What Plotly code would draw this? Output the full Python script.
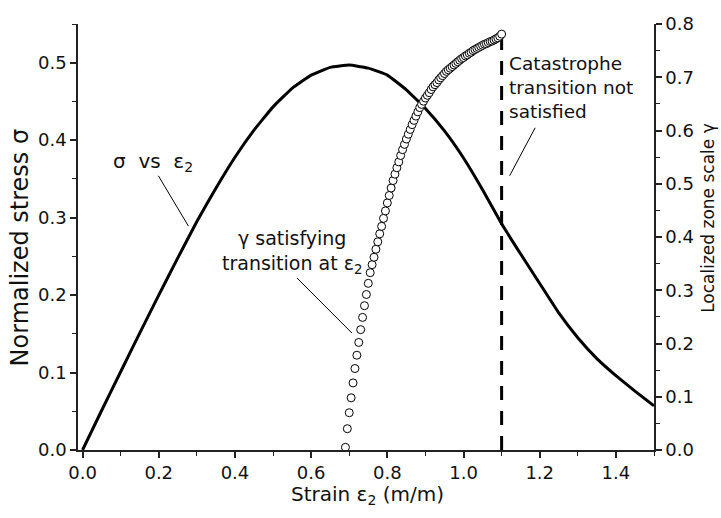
import plotly.graph_objects as go

# ---- data ----
strain_sigma = [0.00, 0.05, 0.10, 0.15, 0.20, 0.25, 0.30, 0.35, 0.40, 0.45,
                0.50, 0.55, 0.60, 0.65, 0.70, 0.75, 0.80, 0.85, 0.90, 0.95,
                1.00, 1.05, 1.10, 1.15, 1.20, 1.25, 1.30, 1.35, 1.40, 1.45, 1.50]
sigma = [0.000, 0.051, 0.101, 0.151, 0.200, 0.248, 0.295, 0.338, 0.378, 0.413,
         0.443, 0.467, 0.484, 0.494, 0.497, 0.493, 0.484, 0.465, 0.441, 0.412,
         0.377, 0.336, 0.292, 0.253, 0.215, 0.177, 0.145, 0.118, 0.096, 0.076, 0.057]

strain_gamma = [0.690, 0.695, 0.700, 0.705, 0.710, 0.715, 0.720, 0.725, 0.730, 0.735,
                0.740, 0.745, 0.750, 0.755, 0.760, 0.765, 0.770, 0.775, 0.780, 0.785,
                0.790, 0.795, 0.800, 0.805, 0.810, 0.815, 0.820, 0.825, 0.830, 0.835,
                0.840, 0.845, 0.850, 0.855, 0.860, 0.865, 0.870, 0.875, 0.880, 0.885,
                0.890, 0.895, 0.900, 0.905, 0.910, 0.915, 0.920, 0.925, 0.930, 0.935,
                0.940, 0.945, 0.950, 0.955, 0.960, 0.965, 0.970, 0.975, 0.980, 0.985,
                0.990, 0.995, 1.000, 1.005, 1.010, 1.015, 1.020, 1.025, 1.030, 1.035,
                1.040, 1.045, 1.050, 1.055, 1.060, 1.065, 1.070, 1.075, 1.080, 1.085,
                1.090, 1.095, 1.100]
gamma = [0.005, 0.040, 0.070, 0.098, 0.126, 0.153, 0.178, 0.202, 0.226, 0.249,
         0.271, 0.292, 0.313, 0.333, 0.348, 0.362, 0.377, 0.391, 0.406, 0.420,
         0.435, 0.449, 0.464, 0.478, 0.492, 0.506, 0.518, 0.530, 0.541, 0.553,
         0.564, 0.574, 0.584, 0.593, 0.602, 0.611, 0.619, 0.627, 0.635, 0.643,
         0.649, 0.655, 0.661, 0.666, 0.671, 0.677, 0.682, 0.686, 0.690, 0.695,
         0.699, 0.703, 0.707, 0.711, 0.714, 0.717, 0.720, 0.723, 0.726, 0.729,
         0.732, 0.735, 0.737, 0.740, 0.742, 0.745, 0.747, 0.750, 0.752, 0.754,
         0.756, 0.758, 0.760, 0.762, 0.763, 0.765, 0.767, 0.768, 0.770, 0.772,
         0.774, 0.777, 0.781]

catastrophe_strain = 1.1

x_title = "Strain ε<sub>2</sub> (m/m)"
y_title = "Normalized stress σ"
y2_title = "Localized zone scale γ"

FONT = "DejaVu Sans"
AX = "#222222"

fig = go.Figure()
fig.add_trace(go.Scatter(
    x=strain_sigma, y=sigma, mode="lines", yaxis="y",
    line=dict(color="black", width=3, shape="spline", smoothing=0.3),
    showlegend=False, hoverinfo="skip"))
fig.add_trace(go.Scatter(
    x=[catastrophe_strain, catastrophe_strain], y=[0, gamma[-1]], mode="lines", yaxis="y2",
    line=dict(color="black", width=3, dash="14px,11px"),
    showlegend=False, hoverinfo="skip"))
fig.add_trace(go.Scatter(
    x=strain_gamma, y=gamma, mode="markers", yaxis="y2",
    marker=dict(symbol="circle", size=8, color="white", line=dict(color="black", width=1)),
    showlegend=False, hoverinfo="skip"))

common = dict(showline=True, linecolor=AX, linewidth=1.5, ticks="outside", ticklen=6,
              tickwidth=1.5, tickcolor=AX, showgrid=False, zeroline=False,
              tickformat=".1f", tickfont=dict(family=FONT, size=18, color="#111"))

fig.update_layout(
    width=721, height=518,
    margin=dict(l=78, r=67, t=24, b=68),
    paper_bgcolor="white", plot_bgcolor="white",
    font=dict(family=FONT, color="#111"),
    xaxis=dict(range=[-0.012, 1.5], dtick=0.2, tick0=0,
               minor=dict(dtick=0.1, ticks="outside", ticklen=4, tickwidth=1.3, tickcolor=AX, showgrid=False),
               **common),
    yaxis=dict(range=[0, 0.55], dtick=0.1, tick0=0,
               minor=dict(dtick=0.05, ticks="outside", ticklen=4, tickwidth=1.3, tickcolor=AX, showgrid=False),
               **common),
    yaxis2=dict(range=[0, 0.8], dtick=0.1, tick0=0, overlaying="y", side="right", anchor="x",
                minor=dict(dtick=0.05, ticks="outside", ticklen=4, tickwidth=1.3, tickcolor=AX, showgrid=False),
                **common),
    showlegend=False,
)

ann_font = dict(family=FONT, size=19, color="#111")
fig.add_annotation(text=x_title, xref="paper", yref="paper", x=0.502, y=-0.106,
                   xanchor="center", yanchor="middle",
                   showarrow=False, font=dict(family=FONT, size=20, color="#111"))
fig.add_annotation(text=y_title, xref="paper", yref="paper", x=-0.100, y=0.4765,
                   xanchor="center", yanchor="middle",
                   textangle=-90, showarrow=False, font=dict(family=FONT, size=24, color="#111"))
fig.add_annotation(text=y2_title, xref="paper", yref="paper", x=1.0938, y=0.545,
                   xanchor="center", yanchor="middle",
                   textangle=-90, showarrow=False, font=dict(family=FONT, size=17, color="#111"))

fig.add_annotation(text="σ\u00a0 vs \u00a0ε<sub>2</sub>", xref="x", yref="y", x=0.186, y=0.372,
                   showarrow=False, font=dict(family=FONT, size=20, color="#111"))
fig.add_annotation(text="γ satisfying<br>transition at ε<sub>2</sub>", xref="x", yref="y",
                   x=0.551, y=0.256, showarrow=False, font=ann_font, align="center")
fig.add_annotation(text="Catastrophe<br>transition not<br>satisfied", xref="x", yref="y",
                   x=1.115, y=0.468, xanchor="left", showarrow=False,
                   font=dict(family=FONT, size=18.5, color="#111"), align="left")

for (x0, y0, x1, y1) in [(0.199, 0.354, 0.278, 0.289),
                         (0.563, 0.222, 0.707, 0.151),
                         (1.188, 0.416, 1.121, 0.354)]:
    fig.add_shape(type="line", xref="x", yref="y", x0=x0, y0=y0, x1=x1, y1=y1,
                  line=dict(color="black", width=1))

fig.write_html("out.html")
